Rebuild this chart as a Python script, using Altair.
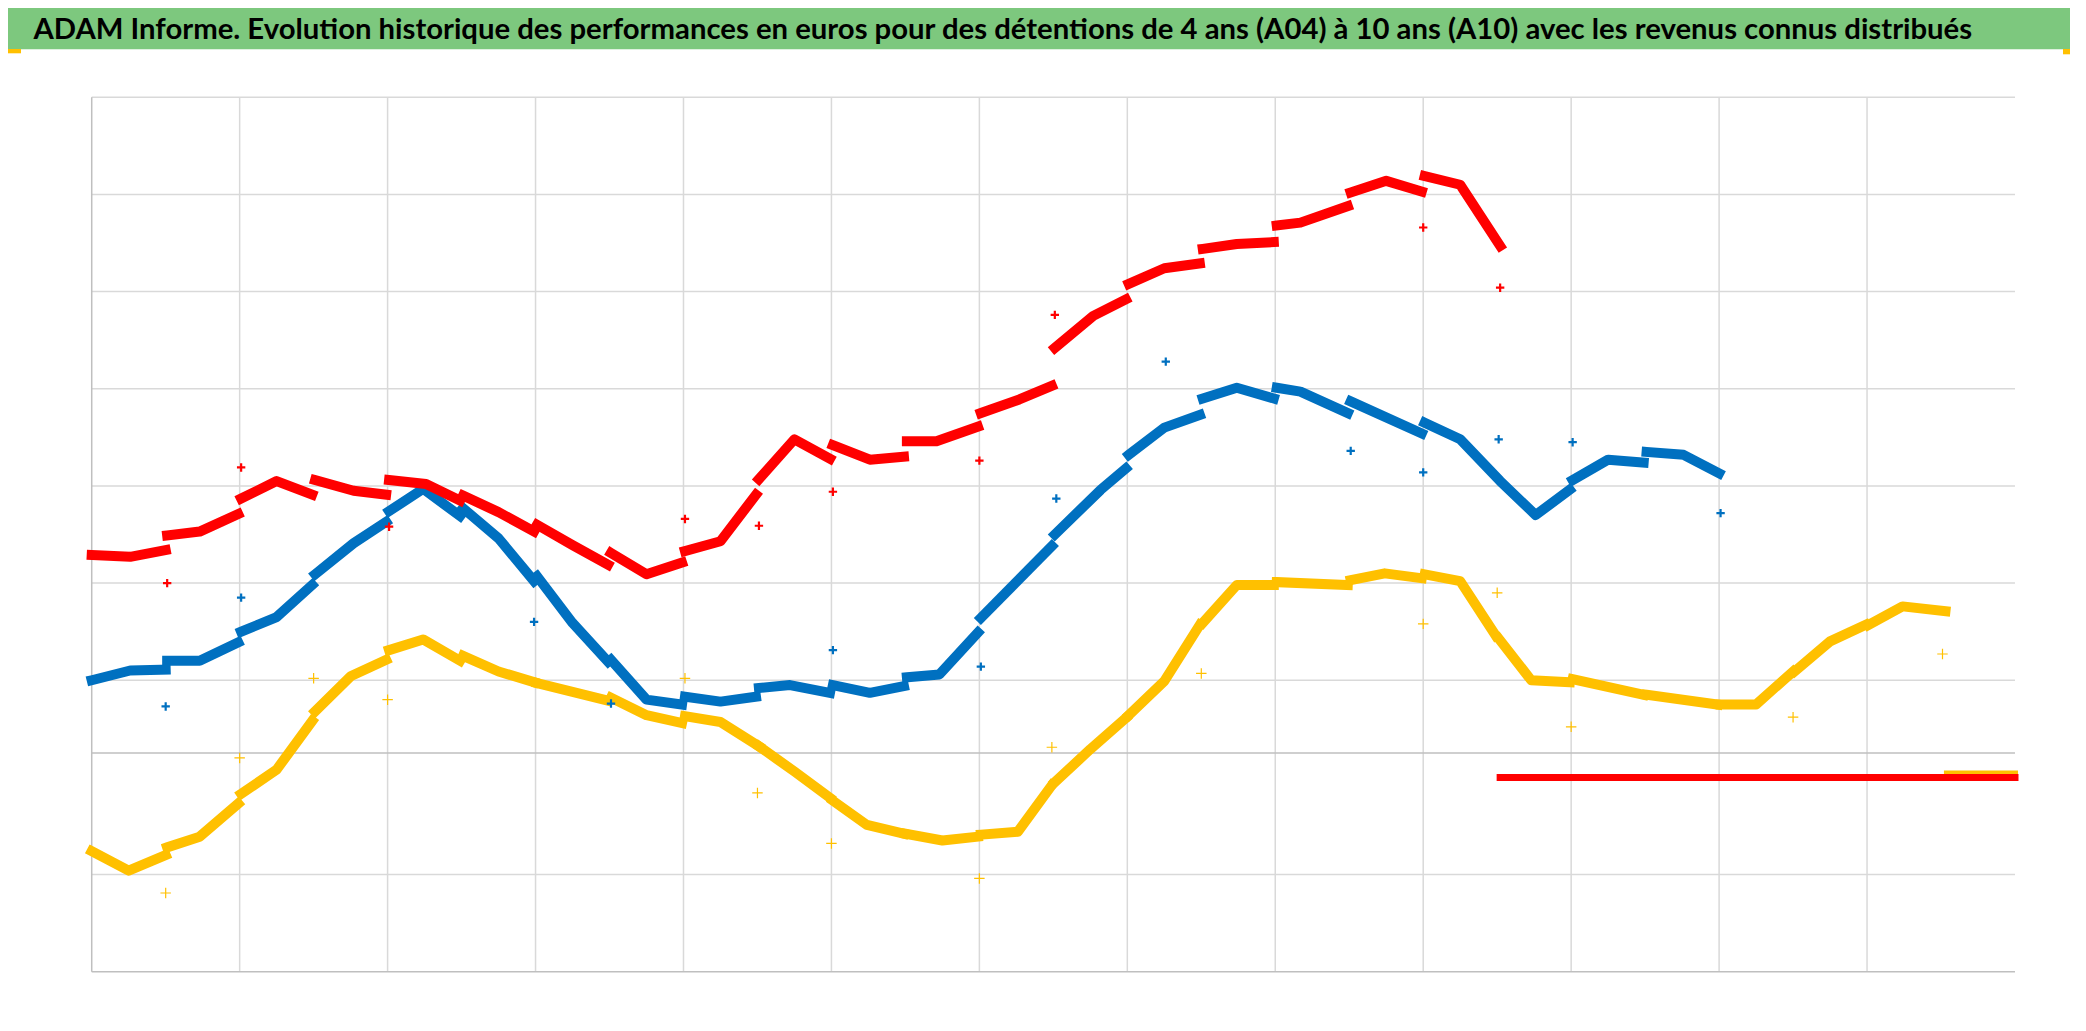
import altair as alt
import pandas as pd

TITLE = ("ADAM Informe. Evolution historique des performances en euros pour des détentions "
         "de 4 ans (A04) à 10 ans (A10) avec les revenus connus distribués")

# x: years since start of the series (one vertical gridline per year), y: value (one gridline per unit)
RED_X = [[0.0, 0.26, 0.5], [0.51, 0.73, 0.99], [1.01, 1.25, 1.49], [1.51, 1.77, 1.99],
         [2.01, 2.26, 2.49], [2.51, 2.75, 2.99], [3.01, 3.25, 3.49], [3.51, 3.75, 3.99],
         [4.01, 4.25, 4.49], [4.51, 4.75, 4.99], [5.01, 5.26, 5.49], [5.51, 5.71, 5.99],
         [6.01, 6.27, 6.49], [6.51, 6.77, 6.99], [7.01, 7.25, 7.49], [7.51, 7.74, 7.99],
         [8.01, 8.17, 8.49], [8.51, 8.75, 8.99], [9.01, 9.25, 9.52]]
RED_Y = [[4.29, 4.27, 4.34], [4.49, 4.53, 4.71], [4.87, 5.05, 4.91], [5.06, 4.95, 4.91],
         [5.06, 5.02, 4.85], [4.90, 4.73, 4.53], [4.60, 4.39, 4.19], [4.31, 4.09, 4.21],
         [4.33, 4.43, 4.91], [5.07, 5.48, 5.28], [5.42, 5.27, 5.30], [5.46, 5.46, 5.61],
         [5.75, 5.89, 6.03], [6.42, 6.75, 6.92], [7.08, 7.24, 7.29], [7.44, 7.49, 7.51],
         [7.68, 7.71, 7.88], [8.02, 8.14, 8.03], [8.19, 8.10, 7.47]]
RED_FLAT_X = [9.52, 13.0]
RED_FLAT_Y = [2.0, 2.0]

BLUE_X = [[0.0, 0.26, 0.5], [0.51, 0.73, 0.99], [1.01, 1.25, 1.49], [1.51, 1.77, 1.99],
          [2.01, 2.24, 2.49], [2.51, 2.75, 2.99], [3.01, 3.25, 3.49], [3.51, 3.75, 3.99],
          [4.01, 4.25, 4.49], [4.51, 4.72, 4.99], [5.01, 5.26, 5.49], [5.51, 5.73, 5.99],
          [6.01, 6.49], [6.51, 6.82, 6.99], [7.01, 7.25, 7.49], [7.51, 7.74, 7.99],
          [8.01, 8.17, 8.49], [8.51, 8.99], [9.01, 9.25, 9.52, 9.76, 9.99],
          [10.01, 10.25, 10.49], [10.51, 10.76, 11.0]]
BLUE_Y = [[3.0, 3.10, 3.11], [3.20, 3.20, 3.39], [3.50, 3.65, 3.98], [4.09, 4.41, 4.63],
          [4.74, 4.97, 4.69], [4.77, 4.46, 4.02], [4.07, 3.59, 3.19], [3.21, 2.80, 2.75],
          [2.83, 2.78, 2.83], [2.92, 2.95, 2.87], [2.95, 2.87, 2.94], [3.03, 3.06, 3.49],
          [3.64, 4.38], [4.50, 4.96, 5.18], [5.32, 5.60, 5.73], [5.90, 6.01, 5.90],
          [6.01, 5.97, 5.75], [5.87, 5.54], [5.65, 5.48, 5.05, 4.70, 4.96],
          [5.06, 5.27, 5.24], [5.35, 5.32, 5.13]]

YEL_X = [[0.0, 0.25, 0.5], [0.51, 0.73, 0.99], [1.01, 1.25, 1.49], [1.51, 1.75, 1.99],
         [2.01, 2.24, 2.49], [2.51, 2.75, 2.99], [3.01, 3.25, 3.49], [3.51, 3.75, 3.99],
         [4.01, 4.25, 4.51], [4.51, 4.75, 4.99], [5.01, 5.24, 5.49], [5.5, 5.75, 5.99],
         [6.01, 6.26, 6.49], [6.51, 6.75, 6.99], [7.01, 7.25, 7.49], [7.51, 7.74, 7.99],
         [8.01, 8.49], [8.51, 8.74, 8.99], [9.01, 9.25, 9.49], [9.51, 9.73, 9.99],
         [10.01, 10.49], [10.51, 10.99], [11.01, 11.25, 11.5], [11.51, 11.75, 11.99],
         [12.01, 12.24, 12.53]]
YEL_Y = [[1.24, 1.04, 1.20], [1.28, 1.39, 1.73], [1.83, 2.08, 2.58], [2.68, 3.04, 3.21],
         [3.31, 3.42, 3.20], [3.25, 3.09, 2.98], [2.97, 2.88, 2.79], [2.82, 2.64, 2.56],
         [2.63, 2.57, 2.32], [2.32, 2.06, 1.79], [1.76, 1.51, 1.42], [1.42, 1.35, 1.39],
         [1.41, 1.44, 1.92], [1.95, 2.29, 2.61], [2.64, 2.99, 3.57], [3.59, 3.98, 3.98],
         [4.01, 3.98], [4.03, 4.10, 4.05], [4.09, 4.02, 3.46], [3.43, 3.0, 2.98],
         [3.01, 2.85], [2.85, 2.75], [2.75, 2.75, 3.09], [3.09, 3.40, 3.57],
         [3.57, 3.76, 3.71]]
YEL_FLAT_X = [12.54, 13.0]
YEL_FLAT_Y = [2.04, 2.04]

# isolated points (revenus distribués)
RED_OX = [0.51, 1.01, 2.01, 4.01, 4.51, 5.01, 6.0, 6.51, 9.0, 9.52]
RED_OY = [4.0, 5.19, 4.58, 4.66, 4.59, 4.94, 5.26, 6.76, 7.66, 7.04]
BLUE_OX = [0.5, 1.01, 2.99, 3.51, 5.01, 6.01, 6.52, 7.26, 8.51, 9.0, 9.51, 10.01, 11.01]
BLUE_OY = [2.73, 3.85, 3.60, 2.76, 3.31, 3.14, 4.87, 6.28, 5.36, 5.14, 5.48, 5.45, 4.72]
YEL_OX = [0.5, 1.0, 1.5, 2.0, 4.01, 4.5, 5.0, 6.0, 6.49, 7.5, 9.0, 9.5, 10.0, 11.5, 12.51]
YEL_OY = [0.81, 2.20, 3.02, 2.80, 3.02, 1.84, 1.32, 0.96, 2.31, 3.07, 3.58, 3.90, 2.52, 2.62, 3.27]

H_GRID = [1, 3, 4, 5, 6, 7, 8, 9]
DARK_LINE = [2.25]
V_GRID = list(range(1, 13))

RED, BLUE, YELLOW = "#FF0000", "#0070C0", "#FFC000"
GRID, AXIS = "#D9D9D9", "#BFBFBF"

W, H = 1923.3, 874.4
xs = alt.Scale(domain=[0, 13], zero=False, nice=False)
ys = alt.Scale(domain=[0, 9], zero=False, nice=False)


def seg_df(xl, yl):
    rows = []
    for s, (xx, yy) in enumerate(zip(xl, yl)):
        for j, (a, b) in enumerate(zip(xx, yy)):
            rows.append({"seg": s, "j": j, "x": a, "y": b})
    return pd.DataFrame(rows)


def band(xl, yl, color, sw=10):
    return alt.Chart(seg_df(xl, yl)).mark_line(
        color=color, strokeWidth=sw, strokeCap="square", strokeJoin="round"
    ).encode(
        x=alt.X("x:Q", scale=xs, axis=None),
        y=alt.Y("y:Q", scale=ys, axis=None),
        detail="seg:N",
        order="j:O",
    )


PLUS = "M-1,0L1,0M0,-1L0,1"


def pts(xv, yv, color, size, sw):
    return alt.Chart(pd.DataFrame({"x": xv, "y": yv})).mark_point(
        shape=PLUS, filled=False, size=size, strokeWidth=sw, color=color, opacity=1
    ).encode(x=alt.X("x:Q", scale=xs, axis=None), y=alt.Y("y:Q", scale=ys, axis=None))


hgrid = alt.Chart(pd.DataFrame({"y": H_GRID})).mark_rule(color=GRID, strokeWidth=1.5).encode(
    y=alt.Y("y:Q", scale=ys, axis=None))
dark = alt.Chart(pd.DataFrame({"y": DARK_LINE})).mark_rule(color=AXIS, strokeWidth=1.5).encode(
    y=alt.Y("y:Q", scale=ys, axis=None))
vgrid = alt.Chart(pd.DataFrame({"x": V_GRID})).mark_rule(color=GRID, strokeWidth=1.5).encode(
    x=alt.X("x:Q", scale=xs, axis=None))
xaxis = alt.Chart(pd.DataFrame({"y": [0]})).mark_rule(color=AXIS, strokeWidth=1.5).encode(
    y=alt.Y("y:Q", scale=ys, axis=None))
yaxis = alt.Chart(pd.DataFrame({"x": [0]})).mark_rule(color=AXIS, strokeWidth=1.5).encode(
    x=alt.X("x:Q", scale=xs, axis=None))

one = pd.DataFrame({"t": [TITLE]})
bar = alt.Chart(one).mark_rect(color="#7DC87E").encode(
    x=alt.value(-84), x2=alt.value(1979), y=alt.value(-90), y2=alt.value(-48))
corner1 = alt.Chart(one).mark_rect(color=YELLOW).encode(
    x=alt.value(-84), x2=alt.value(-70.7), y=alt.value(-48.3), y2=alt.value(-44))
corner2 = alt.Chart(one).mark_rect(color=YELLOW).encode(
    x=alt.value(1971.3), x2=alt.value(1979), y=alt.value(-48.3), y2=alt.value(-43))
title = alt.Chart(one).mark_text(
    align="left", baseline="alphabetic", font="Lato, sans-serif",
    fontSize=29.3, fontWeight="bold", color="black"
).encode(x=alt.value(-58.2), y=alt.value(-58.5), text="t:N")

chart = alt.layer(
    hgrid, vgrid, dark, xaxis, yaxis,
    band(YEL_X, YEL_Y, YELLOW), band([YEL_FLAT_X], [YEL_FLAT_Y], YELLOW, 6),
    pts(YEL_OX, YEL_OY, YELLOW, 110, 1.2),
    band(BLUE_X, BLUE_Y, BLUE), pts(BLUE_OX, BLUE_OY, BLUE, 70, 2.2),
    band(RED_X, RED_Y, RED), band([RED_FLAT_X], [RED_FLAT_Y], RED, 7),
    pts(RED_OX, RED_OY, RED, 70, 2.2),
    bar, corner1, corner2, title,
).properties(
    width=W, height=H,
    padding={"left": 83.7, "top": 89.3, "right": 55, "bottom": 40},
    autosize=alt.AutoSizeParams(type="none"),
).configure_view(stroke=None)

chart.save("out.html", embed_options={"renderer": "svg", "actions": False})
